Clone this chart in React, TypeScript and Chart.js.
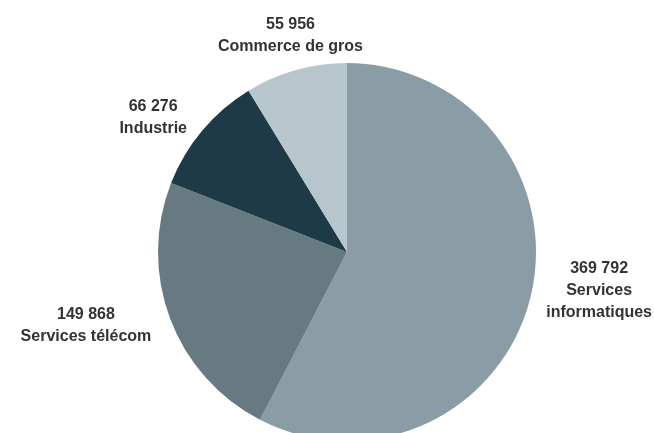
import React, { useEffect, useRef } from "react";
import { Chart, registerables } from "chart.js";

Chart.register(...registerables);

const categories: string[][] = [
  ["Services", "informatiques"],
  ["Services télécom"],
  ["Industrie"],
  ["Commerce de gros"],
];
const values: number[] = [369792, 149868, 66276, 55956];
const colors: string[] = ["#8a9ca5", "#687a81", "#1e3a46", "#b7c6cd"];

const fmt = (v: number) => String(v).replace(/\B(?=(\d{3})+(?!\d))/g, " ");

const labelPlugin = {
  id: "outLabels",
  afterDatasetsDraw(chart: any) {
    const ctx = chart.ctx as CanvasRenderingContext2D;
    const meta = chart.getDatasetMeta(0);
    const gap = 20;
    const lineH = 22;
    const W = chart.width;
    ctx.save();
    ctx.font = "bold 16px 'Liberation Sans', Arial, sans-serif";
    ctx.fillStyle = "#333333";
    ctx.textBaseline = "middle";
    ctx.textAlign = "center";
    meta.data.forEach((arc: any, i: number) => {
      const lines = [fmt(values[i]), ...categories[i]];
      const mid = (arc.startAngle + arc.endAngle) / 2;
      const r = arc.outerRadius + gap;
      const px = arc.x + Math.cos(mid) * r;
      const py = arc.y + Math.sin(mid) * r;
      const w = Math.max(...lines.map((l) => ctx.measureText(l).width));
      const h = lines.length * lineH;
      let cx = px;
      let top = py - h / 2;
      const c = Math.cos(mid);
      const s = Math.sin(mid);
      if (Math.abs(c) > 0.5) {
        cx = c > 0 ? px + w / 2 : px - w / 2;
        top = py - (lines.length - 1) * lineH;
      } else {
        cx = px;
        top = s < 0 ? py - h + 7 : py;
      }
      if (cx + w / 2 > W - 2) cx = W - 2 - w / 2;
      if (cx - w / 2 < 2) cx = 2 + w / 2;
      lines.forEach((l, k) => {
        ctx.fillText(l, cx, top + lineH / 2 + k * lineH);
      });
    });
    ctx.restore();
  },
};

export default function App() {
  const ref = useRef<HTMLCanvasElement | null>(null);
  useEffect(() => {
    if (!ref.current) return;
    const chart = new Chart(ref.current, {
      type: "pie",
      data: {
        labels: categories.map((c) => c.join(" ")),
        datasets: [
          {
            data: values,
            backgroundColor: colors,
            borderWidth: 0,
            hoverOffset: 0,
            offset: 0,
          },
        ],
      },
      options: {
        responsive: false,
        animation: false,
        devicePixelRatio: 1,
        layout: { padding: { top: 63, bottom: 39, left: 158, right: 118 } },
        plugins: {
          legend: { display: false },
          tooltip: { enabled: false },
        },
      },
      plugins: [labelPlugin],
    });
    return () => chart.destroy();
  }, []);
  return (
    <div
      style={{
        position: "fixed",
        left: 0,
        top: 0,
        width: 654,
        height: 433,
        overflow: "hidden",
        background: "#ffffff",
      }}
    >
      <canvas ref={ref} width={654} height={480} style={{ width: 654, height: 480 }} />
    </div>
  );
}
